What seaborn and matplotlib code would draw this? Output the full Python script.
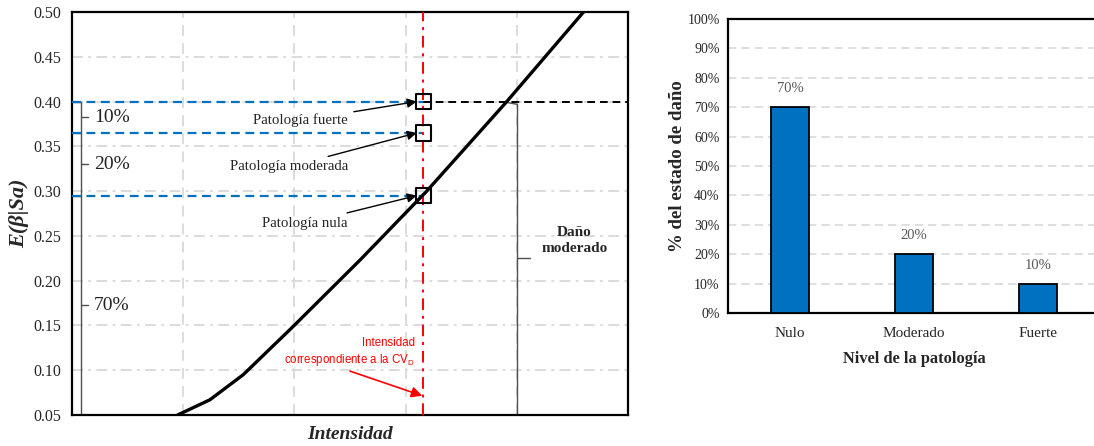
import matplotlib
matplotlib.use("Agg")
import matplotlib.pyplot as plt
import seaborn as sns
import numpy as np
import pandas as pd

# ---------------- data ----------------
curve_x = [0.95, 1.24, 1.54, 1.99, 2.59, 3.19, 3.91, 4.60]
curve_y = [0.050, 0.067, 0.095, 0.149, 0.223, 0.300, 0.400, 0.500]
intensity_cv = 3.16
thresholds = [0.295, 0.365, 0.400]          # nula, moderada, fuerte
threshold_names = ["Patología nula", "Patología moderada", "Patología fuerte"]
threshold_label_y = [0.264, 0.327, 0.379]
share_labels = ["70%", "20%", "10%"]
y_ticks_left = [0.05, 0.10, 0.15, 0.20, 0.25, 0.30, 0.35, 0.40, 0.45, 0.50]

levels = ["Nulo", "Moderado", "Fuerte"]
level_pct = [70, 20, 10]
y_ticks_right = [0, 10, 20, 30, 40, 50, 60, 70, 80, 90, 100]

# ---------------- style ----------------
sns.set_style("white")
plt.rcParams['font.family'] = ['Liberation Serif', 'DejaVu Serif']
plt.rcParams['mathtext.fontset'] = 'custom'
plt.rcParams['mathtext.rm'] = 'Liberation Sans'

BLUE = "#0070C0"
GRID = "#D9D9D9"

fig = plt.figure(figsize=(10.94, 4.46), dpi=100)
ax = fig.add_axes([72/1094, 31/446, (628-72)/1094, (415-12)/446])
ax2 = fig.add_axes([728/1094, (446-313)/446, (1100-728)/1094, (313-19)/446])

# ---------------- left chart ----------------
ax.set_xlim(0, 5)
ax.set_ylim(0.05, 0.50)
for yv in y_ticks_left[1:-1]:
    ax.axhline(yv, color=GRID, lw=1.3, ls=(0, (6, 3, 1.5, 3)), zorder=0)
for xv in [1, 2, 3, 4]:
    ax.axvline(xv, color=GRID, lw=1.3, ls=(0, (6, 4)), zorder=0)

df_curve = pd.DataFrame({"x": curve_x, "y": curve_y})
sns.lineplot(data=df_curve, x="x", y="y", ax=ax, color="black", lw=2.4, zorder=5)

# red vertical CV line
ax.axvline(intensity_cv, color="red", lw=1.4, ls=(0, (6, 3, 1.5, 3)), zorder=4)

# blue dashed thresholds
for t in thresholds:
    ax.plot([0, intensity_cv], [t, t], color=BLUE, lw=1.6, ls=(0, (4, 2.5)), zorder=3)
ax.plot([intensity_cv, 5], [thresholds[2]] * 2, color="black", lw=1.4, ls=(0, (4, 2.5)), zorder=3)

# squares
ax.scatter([intensity_cv] * 3, thresholds, marker="s", s=120, facecolor="none",
           edgecolor="black", linewidths=1.5, zorder=6)

# annotations for pathology levels
for t, name, ly in zip(thresholds, threshold_names, threshold_label_y):
    ax.annotate(name, xy=(intensity_cv - 0.06, t), xytext=(2.48, ly),
                ha="right", va="center", fontsize=10.7,
                arrowprops=dict(arrowstyle="-|>", color="black", lw=1.0,
                                mutation_scale=14, shrinkA=2, shrinkB=0), zorder=7)

# left brace with percentages
bx = 0.08
gray = "#505050"
ax.plot([bx, bx], [0.05, thresholds[2]], color=gray, lw=1.0)
for t in thresholds:
    ax.plot([0, bx], [t, t], color=gray, lw=1.0)
bounds = [0.05] + thresholds
for i, lab in enumerate(share_labels):
    mid = (bounds[i] + bounds[i + 1]) / 2
    ax.plot([bx, bx + 0.06], [mid, mid], color=gray, lw=1.0)
    ax.text(bx + 0.12, mid, lab, fontsize=14, va="center", ha="left", color="#222222")

# right brace
rx = 4.0
ax.plot([rx, rx], [0.052, thresholds[2] - 0.003], color=gray, lw=1.0)
ax.plot([3.91, rx], [thresholds[2] - 0.001, thresholds[2] - 0.003], color=gray, lw=1.0)
midr = (0.05 + thresholds[2]) / 2
ax.plot([rx, rx + 0.12], [midr, midr], color=gray, lw=1.0)
ax.text(4.52, 0.245, "Daño\nmoderado", ha="center", va="center", fontsize=11,
        fontweight="bold", linespacing=1.35)

# red note
ax.text(3.085, 0.1195, "Intensidad\ncorrespondiente a la CV$_{\\mathrm{D}}$", color="red",
        ha="right", va="center", fontsize=8.3, family=["Liberation Sans", "DejaVu Sans"],
        multialignment="right", linespacing=1.25)
ax.annotate("", xy=(intensity_cv - 0.01, 0.0715), xytext=(2.50, 0.099),
            arrowprops=dict(arrowstyle="-|>", color="red", lw=1.2, mutation_scale=16,
                            shrinkA=0, shrinkB=0), zorder=7)

ax.set_xticks([0, 1, 2, 3, 4, 5])
ax.set_xticklabels([])
ax.set_yticks(y_ticks_left)
ax.set_yticklabels([f"{v:.2f}" for v in y_ticks_left], fontsize=11.5)
ax.tick_params(axis="x", direction="inout", length=10, width=1.0, color="black")
ax.tick_params(axis="y", direction="out", length=5, width=1.0, color="black", pad=3)
ax.set_xlabel("Intensidad", fontsize=14, fontstyle="italic", fontweight="bold")
ax.xaxis.set_label_coords(0.5, -0.028)
ax.set_ylabel("E(β|Sa)", fontsize=16, fontstyle="italic", fontweight="bold", labelpad=3)
for s in ax.spines.values():
    s.set_color("black")
    s.set_linewidth(1.6)

# ---------------- right chart ----------------
df_bar = pd.DataFrame({"nivel": levels, "pct": level_pct})
sns.barplot(data=df_bar, x="nivel", y="pct", ax=ax2, color=BLUE, saturation=1,
            edgecolor="black", linewidth=1.3, width=0.31, zorder=3)
ax2.set_xlim(-0.5, 2.5)
ax2.set_ylim(0, 100)
for yv in y_ticks_right[1:-1]:
    ax2.axhline(yv, color=GRID, lw=1.2, ls=(0, (5, 3)), zorder=0)
ax2.set_yticks(y_ticks_right)
ax2.set_yticklabels([f"{v}%" for v in y_ticks_right], fontsize=10)
ax2.tick_params(axis="y", direction="out", length=4, width=1.0, color="black", pad=2)
ax2.set_xticks(range(len(levels)))
ax2.set_xticklabels(levels, fontsize=11)
ax2.tick_params(axis="x", which="major", length=0, pad=10)
ax2.set_xticks([0.5, 1.5], minor=True)
ax2.tick_params(axis="x", which="minor", direction="inout", length=8, width=1.0, color="black")
for i, v in enumerate(level_pct):
    ax2.text(i, v + 4, f"{v}%", ha="center", va="bottom", fontsize=10.5, color="#595959")
ax2.set_xlabel("Nivel de la patología", fontsize=11.8, fontweight="bold", labelpad=8)
ax2.set_ylabel("% del estado de daño", fontsize=13.5, fontweight="bold", labelpad=1)
for s in ax2.spines.values():
    s.set_color("black")
    s.set_linewidth(1.6)

fig.savefig("out.png", dpi=100)
